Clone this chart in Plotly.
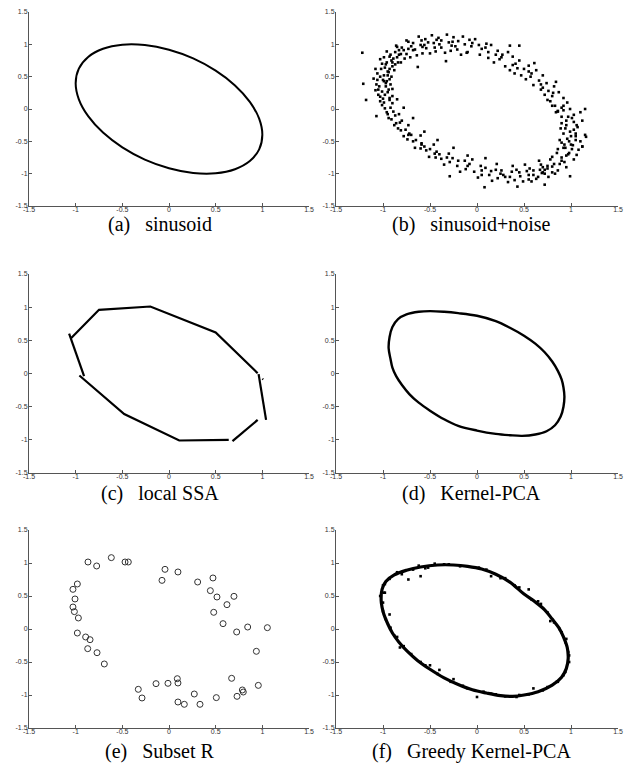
import plotly.graph_objects as go

# ---------------- data ----------------
tick_vals = [-1.5, -1, -0.5, 0, 0.5, 1, 1.5]
tick_text = ["-1.5", "-1", "-0.5", "0", "0.5", "1", "1.5"]

captions = ["(a)\u00a0\u00a0 sinusoid", "(b)\u00a0\u00a0 sinusoid+noise", "(c)\u00a0\u00a0 local SSA",
            "(d)\u00a0\u00a0 Kernel-PCA", "(e)\u00a0\u00a0 Subset R", "(f)\u00a0\u00a0 Greedy Kernel-PCA"]

# (a) sinusoid - closed curve
a_x = [0, 0.259, 0.5, 0.707, 0.866, 0.966, 1.0, 0.966, 0.866, 0.707, 0.5, 0.259,
       0, -0.259, -0.5, -0.707, -0.866, -0.966, -1.0, -0.966, -0.866, -0.707, -0.5, -0.259, 0]
a_y = [0.916, 0.782, 0.593, 0.365, 0.111, -0.150, -0.400, -0.624, -0.805, -0.931, -0.994, -0.989,
       -0.916, -0.782, -0.593, -0.365, -0.111, 0.150, 0.400, 0.624, 0.805, 0.931, 0.994, 0.989, 0.916]

# (b) sinusoid + noise - scattered points
b_pts = [
    (0.03,0.84),(-0.06,0.97),(0.10,1.01),(-0.02,1.08),(0.05,0.93),(-0.10,0.88),
    (0.12,0.79),(0.22,0.90),(0.18,0.72),(0.09,0.95),(0.26,0.80),(0.15,0.99),
    (0.30,0.66),(0.38,0.81),(0.41,0.70),(0.27,0.84),(0.35,0.60),(0.45,0.75),(0.33,0.88),
    (0.47,0.52),(0.55,0.67),(0.58,0.55),(0.43,0.63),(0.52,0.46),(0.61,0.71),(0.40,0.55),
    (0.60,0.37),(0.70,0.52),(0.66,0.44),(0.57,0.50),(0.74,0.40),(0.63,0.60),(0.68,0.30),
    (0.72,0.22),(0.82,0.35),(0.80,0.20),(0.70,0.33),(0.87,0.26),(0.75,0.14),(0.84,0.42),
    (0.83,0.05),(0.92,0.17),(0.90,0.02),(0.78,0.12),(0.96,0.10),(0.86,-0.04),(0.81,0.25),
    (0.90,-0.12),(0.99,0.00),(1.03,-0.09),(0.86,-0.03),(0.95,-0.18),(1.10,-0.05),(0.92,0.05),(1.01,-0.14),
    (0.94,-0.30),(1.03,-0.20),(1.07,-0.28),(0.90,-0.22),(0.99,-0.35),(1.12,-0.18),(0.97,-0.12),(1.05,-0.38),
    (0.96,-0.46),(1.05,-0.42),(0.92,-0.38),(1.10,-0.50),(1.00,-0.55),(1.15,-0.40),(0.88,-0.48),(1.03,-0.32),
    (0.94,-0.60),(1.02,-0.56),(1.08,-0.63),(0.90,-0.52),(0.98,-0.68),(1.12,-0.58),(0.86,-0.62),
    (0.90,-0.75),(0.97,-0.70),(1.03,-0.78),(0.85,-0.68),(0.93,-0.82),(1.06,-0.71),(0.80,-0.74),
    (0.82,-0.85),(0.90,-0.80),(0.95,-0.90),(0.78,-0.78),(0.86,-0.95),(0.99,-1.04),(0.75,-0.88),
    (0.72,-0.94),(0.80,-0.89),(0.83,-1.00),(0.68,-0.86),(0.76,-1.05),(0.70,-0.98),(0.66,-0.80),
    (0.60,-1.02),(0.67,-0.94),(0.72,-1.17),(0.56,-0.92),(0.63,-1.08),(0.69,-0.99),(0.58,-1.12),
    (0.46,-1.04),(0.53,-0.96),(0.55,-1.09),(0.42,-0.94),(0.49,-1.12),(0.43,-1.20),(0.51,-0.86),
    (0.30,-1.05),(0.37,-0.97),(0.40,-1.10),(0.26,-0.95),(0.33,-1.13),(0.38,-0.88),(0.28,-1.02),
    (0.13,-1.02),(0.20,-0.94),(0.22,-1.07),(0.09,-0.91),(0.16,-1.11),(0.08,-1.21),(0.21,-0.85),
    (-0.03,-0.97),(0.04,-0.88),(0.05,-1.02),(-0.08,-0.85),(0.01,-1.06),(0.09,-0.76),(-0.05,-0.78),
    (-0.21,-0.88),(-0.13,-0.80),(-0.12,-0.93),(-0.26,-0.76),(-0.18,-0.97),(-0.10,-0.72),(-0.29,-1.04),
    (-0.38,-0.77),(-0.30,-0.69),(-0.29,-0.82),(-0.43,-0.66),(-0.35,-0.86),(-0.25,-0.60),(-0.44,-0.75),
    (-0.54,-0.64),(-0.46,-0.55),(-0.45,-0.69),(-0.59,-0.53),(-0.51,-0.74),(-0.42,-0.48),(-0.60,-0.61),
    (-0.68,-0.50),(-0.60,-0.41),(-0.59,-0.55),(-0.73,-0.40),(-0.66,-0.60),(-0.56,-0.35),(-0.74,-0.47),
    (-0.81,-0.33),(-0.73,-0.25),(-0.72,-0.38),(-0.86,-0.22),(-0.78,-0.42),(-0.68,-0.14),(-0.84,-0.30),
    (-0.91,-0.16),(-0.83,-0.08),(-0.82,-0.21),(-0.96,-0.05),(-0.88,-0.25),(-0.78,0.02),(-1.07,-0.11),
    (-0.98,0.01),(-0.90,0.09),(-0.89,-0.04),(-1.03,0.12),(-0.95,-0.08),(-0.85,0.15),(-1.01,0.06),(-0.93,0.17),
    (-1.03,0.19),(-0.95,0.26),(-0.93,0.14),(-1.08,0.29),(-0.99,0.10),(-0.90,0.31),(-1.05,0.22),(-0.97,0.35),(-1.18,0.14),
    (-1.04,0.35),(-0.96,0.43),(-0.94,0.30),(-1.10,0.47),(-1.01,0.27),(-0.91,0.50),(-1.07,0.38),(-0.99,0.52),(-1.21,0.39),
    (-1.03,0.50),(-0.95,0.58),(-0.93,0.46),(-1.08,0.62),(-0.99,0.43),(-0.90,0.66),(-1.06,0.55),(-0.97,0.69),
    (-0.98,0.64),(-0.90,0.72),(-0.88,0.60),(-1.03,0.77),(-0.94,0.57),(-0.85,0.80),(-1.01,0.70),(-0.92,0.84),(-1.22,0.87),
    (-0.91,0.75),(-0.83,0.84),(-0.81,0.72),(-0.96,0.89),(-0.87,0.69),(-0.78,0.91),(-0.93,0.81),(-0.85,0.96),
    (-0.81,0.85),(-0.73,0.93),(-0.71,0.80),(-0.86,0.98),(-0.77,0.78),(-0.68,1.02),(-0.83,0.91),(-0.75,1.06),
    (-0.68,0.91),(-0.60,0.99),(-0.58,0.86),(-0.73,1.04),(-0.64,0.83),(-0.55,1.08),(-0.70,0.97),(-0.62,1.12),
    (-0.54,0.94),(-0.46,1.02),(-0.44,0.89),(-0.59,1.06),(-0.50,0.86),(-0.41,1.10),(-0.56,0.99),(-0.48,1.14),(-0.63,0.65),
    (-0.38,0.95),(-0.30,1.03),(-0.28,0.90),(-0.43,1.07),(-0.34,0.87),(-0.25,1.11),(-0.40,1.00),(-0.32,1.15),(-0.33,0.74),
    (-0.21,0.92),(-0.13,1.00),(-0.11,0.87),(-0.26,1.04),(-0.17,0.84),(-0.08,1.07),(-0.23,0.97),(-0.15,1.12),
    (0.35,0.98),(0.45,0.98),(1.15,0.00),(1.16,-0.43),(1.12,-0.58),(0.72,-1.00),
    (-1.00,0.45),(-0.97,0.40),(-1.02,0.62),(-0.95,0.52),(-0.92,0.38),(-1.05,0.30),(-0.98,0.22),(-0.90,0.20),
    (-0.96,0.72),(-0.89,0.78),(-0.99,0.80),(-0.87,0.88),(-0.80,0.95),(-0.92,0.02),(-0.87,-0.10),(-0.80,-0.18),
    (-0.94,-0.14),(-1.00,0.16),(-1.06,0.45),(-0.93,0.62),(-0.84,0.72),(-0.75,0.85),(-0.66,0.92),(-0.58,0.96),
    (-0.52,1.03),(-0.45,0.95),(-0.38,1.06),(-0.27,0.98),(-0.20,1.05),(-0.05,1.02),(0.02,0.99),(0.12,0.88),(0.20,0.84),
    (0.95,-0.25),(1.00,-0.42),(0.98,-0.50),(1.05,-0.48),(0.93,-0.55),(1.01,-0.62),(0.95,-0.72),(0.88,-0.85),
    (0.92,-0.60),(1.06,-0.25),(0.89,-0.30),(0.84,-0.05),(0.92,-0.02),(0.80,0.05),(0.76,0.28),(0.68,0.38),
    (0.55,0.58),(0.50,0.62),(0.38,0.68),(0.24,0.77),
    (0.60,-0.95),(0.55,-1.02),(0.65,-1.05),(0.45,-0.98),(0.35,-1.05),(0.25,-1.00),(0.15,-0.96),(0.05,-0.95),
    (-0.10,-0.88),(-0.20,-0.80),(-0.32,-0.75),(-0.40,-0.70),(-0.50,-0.62),(-0.56,-0.58),(-0.65,-0.48),
    (-0.70,-0.40),(-0.76,-0.32),(0.75,-0.92),(0.80,-0.98),(0.70,-0.90),
]
b_x = [p[0] for p in b_pts]
b_y = [p[1] for p in b_pts]

# (c) local SSA - disconnected straight segments
c_x = [-1.07, -0.91, None, -1.05, -0.75, -0.20, 0.50, 0.95, None,
       0.96, 1.04, None, 0.95, 0.68, None, 0.64, 0.11, -0.48, -0.96, None, 1.00, 1.01]
c_y = [0.60, -0.04, None, 0.53, 0.96, 1.01, 0.62, 0.005, None,
       -0.01, -0.70, None, -0.70, -1.02, None, -1.00, -1.01, -0.61, -0.03, None, -0.08, -0.09]

# (d) Kernel-PCA - closed curve
d_x = [-0.94, -0.93, -0.90, -0.84, -0.75, -0.62, -0.50, -0.35, -0.20, 0.0, 0.2, 0.35, 0.5, 0.62,
       0.72, 0.80, 0.86, 0.90, 0.92, 0.93, 0.92, 0.89, 0.83, 0.74, 0.62, 0.48, 0.35, 0.20, 0.0,
       -0.2, -0.35, -0.5, -0.62, -0.72, -0.80, -0.86, -0.90, -0.92, -0.94]
d_y = [0.38, 0.55, 0.70, 0.82, 0.89, 0.93, 0.94, 0.93, 0.91, 0.87, 0.79, 0.69, 0.57, 0.45,
       0.32, 0.18, 0.04, -0.09, -0.21, -0.35, -0.50, -0.65, -0.78, -0.87, -0.92, -0.94, -0.93, -0.91, -0.86,
       -0.79, -0.69, -0.56, -0.44, -0.31, -0.17, -0.04, 0.09, 0.22, 0.38]

# (e) Subset R - open circles
e_x = [-0.868, -0.775, -0.618, -0.471, -0.436, -0.043, 0.096, -0.075, 0.307, 0.471, 0.443, 0.514,
       0.696, 0.621, 0.479, 0.579, 0.725, 0.843, 1.054, 0.936, 0.957, 0.671, 0.786, 0.796, 0.729,
       0.507, 0.332, 0.271, 0.164, 0.096, 0.096, 0.089, -0.011, -0.139, -0.289, -0.329, -0.693,
       -0.771, -0.871, -0.846, -0.893, -0.982, -0.971, -1.014, -1.029, -1.007, -1.029, -0.982]
e_y = [1.015, 0.955, 1.081, 1.015, 1.015, 0.904, 0.864, 0.737, 0.712, 0.773, 0.581, 0.485,
       0.495, 0.369, 0.253, 0.081, -0.045, 0.030, 0.020, -0.338, -0.854, -0.747, -0.924, -0.955, -1.020,
       -1.040, -1.141, -0.985, -1.141, -1.106, -0.818, -0.753, -0.823, -0.828, -1.045, -0.914, -0.530,
       -0.359, -0.298, -0.162, -0.121, -0.061, 0.167, 0.263, 0.333, 0.455, 0.601, 0.682]

# (f) Greedy Kernel-PCA - dense band plus scattered points around it
f_x = [-1.02, -1.01, -0.97, -0.88, -0.75, -0.60, -0.42, -0.25, -0.10, 0.05, 0.20, 0.35, 0.50, 0.62,
       0.72, 0.80, 0.87, 0.92, 0.96, 0.97, 0.95, 0.90, 0.80, 0.65, 0.50, 0.38, 0.25, 0.10, -0.05,
       -0.20, -0.35, -0.50, -0.63, -0.74, -0.83, -0.90, -0.95, -0.99, -1.01, -1.02]
f_y = [0.44, 0.60, 0.72, 0.82, 0.89, 0.94, 0.97, 0.97, 0.95, 0.91, 0.83, 0.71, 0.53, 0.41,
       0.29, 0.15, 0.02, -0.12, -0.28, -0.45, -0.60, -0.73, -0.85, -0.95, -1.00, -1.02, -1.01, -0.97, -0.92,
       -0.84, -0.74, -0.61, -0.48, -0.34, -0.20, -0.06, 0.08, 0.22, 0.33, 0.44]
f_strays = [
    (0.0,-1.03),(-0.73,0.75),(-0.60,0.80),(-0.55,0.92),(0.15,0.80),(0.55,0.60),(0.88,0.00),(0.95,-0.15),
    (0.60,-0.90),(-0.50,-0.55),(-0.40,-0.62),(-0.25,-0.76),(0.07,-0.95),(-0.85,-0.12),(-0.93,0.22),
    (-1.00,0.66),(0.78,0.12),(0.98,-0.40),(0.92,-0.70),(0.45,-1.00),(-0.30,0.98),(-0.45,0.99),(0.30,0.77),
    (0.68,0.38),(-0.70,-0.38),(0.20,-0.99),(-0.15,-0.86),(-0.82,-0.28),(0.85,-0.80),(-0.98,0.55),
    (-1.00,0.40),(-1.03,0.50),(-0.99,0.55),(-0.98,0.68),(-0.93,0.76),(-0.85,0.86),(-0.80,0.83),(-0.68,0.90),
    (-0.62,0.96),(-0.52,0.93),(-0.35,0.98),(-0.18,0.95),(0.02,0.93),(0.10,0.90),(0.25,0.77),(0.40,0.66),
    (0.45,0.63),(0.58,0.45),(0.65,0.42),(0.75,0.25),(0.82,0.10),(0.90,-0.05),(0.94,-0.20),(0.97,-0.35),
    (0.98,-0.50),(0.94,-0.65),(0.86,-0.80),(0.75,-0.88),(0.70,-0.93),(0.55,-0.99),(0.42,-1.03),(0.30,-1.02),
    (0.15,-0.98),(-0.10,-0.90),(-0.28,-0.80),(-0.42,-0.68),(-0.55,-0.55),(-0.60,-0.50),(-0.78,-0.26),
    (-0.88,-0.10),(-0.92,0.02),(-0.97,0.15),(-1.00,0.27),
]
f_sx = [p[0] for p in f_strays]
f_sy = [p[1] for p in f_strays]

# ---------------- layout geometry ----------------
# the page body has an 8px margin, so the figure starts at (8, 8) in the window
OFF = 8
W, H = 638 - OFF, 769 - OFF
col_px = [(29, 309), (336, 618)]          # window pixels
row_px = [(12, 206), (274, 473), (530, 728)]
cap_x_px = [160, 471]
cap_y_px = [224, 493, 751]

fig = go.Figure()
ink = "black"
fig.add_trace(go.Scatter(x=a_x, y=a_y, mode="lines", line=dict(color=ink, width=2, shape="spline"),
                         xaxis="x", yaxis="y"))
fig.add_trace(go.Scatter(x=b_x, y=b_y, mode="markers",
                         marker=dict(symbol="square", size=2.6, color=ink, line=dict(width=0)),
                         xaxis="x2", yaxis="y2"))
fig.add_trace(go.Scatter(x=c_x, y=c_y, mode="lines", line=dict(color=ink, width=2.2),
                         connectgaps=False, xaxis="x3", yaxis="y3"))
fig.add_trace(go.Scatter(x=d_x, y=d_y, mode="lines", line=dict(color=ink, width=2.4, shape="spline"),
                         xaxis="x4", yaxis="y4"))
fig.add_trace(go.Scatter(x=e_x, y=e_y, mode="markers",
                         marker=dict(symbol="circle-open", size=6, color="#333", line=dict(width=1)),
                         xaxis="x5", yaxis="y5"))
fig.add_trace(go.Scatter(x=f_x, y=f_y, mode="lines", line=dict(color=ink, width=3.2, shape="spline"),
                         xaxis="x6", yaxis="y6"))
fig.add_trace(go.Scatter(x=f_sx, y=f_sy, mode="markers",
                         marker=dict(symbol="square", size=2.6, color=ink, line=dict(width=0)),
                         xaxis="x6", yaxis="y6"))

axis_style = dict(range=[-1.5, 1.5], tickmode="array", tickvals=tick_vals, ticktext=tick_text,
                  ticks="inside", ticklen=3, tickwidth=1, tickcolor="#555",
                  showline=True, linecolor="#555", linewidth=1, mirror=False,
                  showgrid=False, zeroline=False, automargin=False,
                  tickfont=dict(family="Liberation Sans, Arial, sans-serif", size=7, color="#333"))

layout = dict(width=W, height=H, margin=dict(l=0, r=0, t=0, b=0, autoexpand=False),
              template="none", paper_bgcolor="white", plot_bgcolor="white", showlegend=False)
annotations = []
n = 1
for r in range(3):
    for c in range(2):
        xk = "xaxis" if n == 1 else f"xaxis{n}"
        yk = "yaxis" if n == 1 else f"yaxis{n}"
        x0, x1 = col_px[c][0] - OFF, col_px[c][1] - OFF
        y0, y1 = row_px[r][0] - OFF, row_px[r][1] - OFF
        layout[xk] = dict(axis_style, domain=[x0 / W, x1 / W], anchor=("y" if n == 1 else f"y{n}"),
                          ticklabelstandoff=-3)
        layout[yk] = dict(axis_style, domain=[1 - y1 / H, 1 - y0 / H], anchor=("x" if n == 1 else f"x{n}"),
                          ticklabelstandoff=-1)
        annotations.append(dict(text=captions[n - 1], xref="paper", yref="paper",
                                x=(cap_x_px[c] - OFF) / W, y=1 - (cap_y_px[r] - OFF) / H,
                                xanchor="center", yanchor="middle", showarrow=False,
                                font=dict(family="Liberation Serif, Times New Roman, serif", size=20, color="black")))
        n += 1
layout["annotations"] = annotations
fig.update_layout(**layout)

fig.write_html("out.html")
